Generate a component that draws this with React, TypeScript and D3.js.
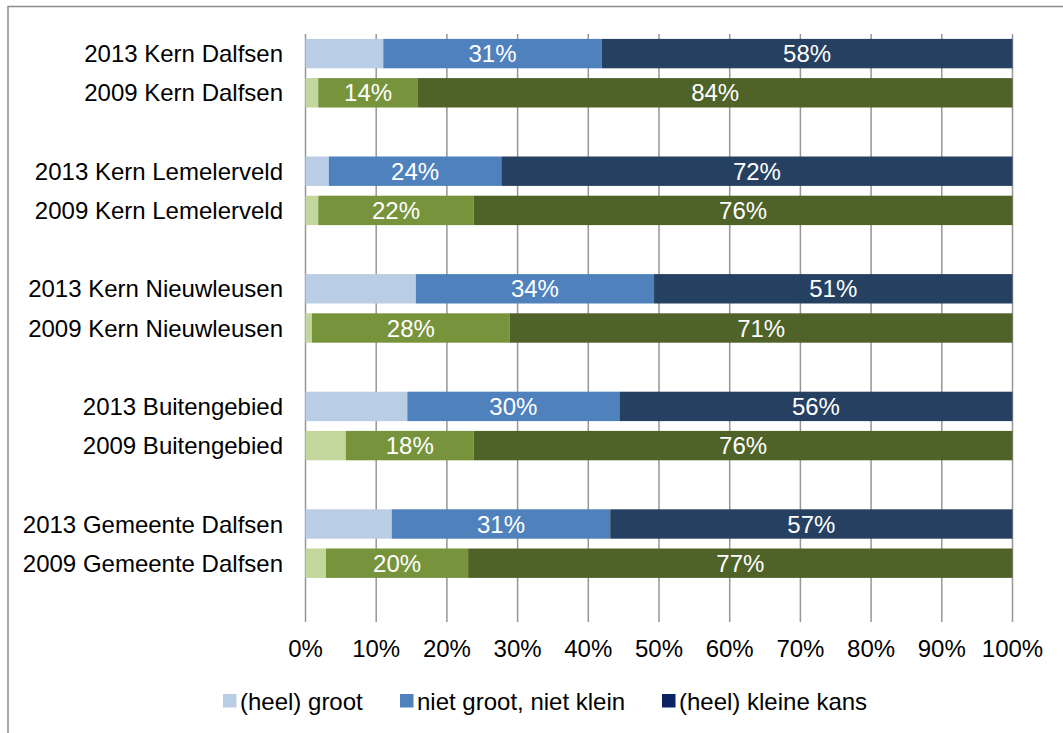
import React, { useEffect, useRef } from 'react';
import * as d3 from 'd3';

// categorieen van boven naar beneden ('' = lege tussenruimte)
const categories = [
  '2013 Kern Dalfsen', '2009 Kern Dalfsen', '',
  '2013 Kern Lemelerveld', '2009 Kern Lemelerveld', '',
  '2013 Kern Nieuwleusen', '2009 Kern Nieuwleusen', '',
  '2013 Buitengebied', '2009 Buitengebied', '',
  '2013 Gemeente Dalfsen', '2009 Gemeente Dalfsen', '',
];

const rows = categories.filter(c => c !== '');

const groot = [11.0, 1.8, 3.3, 1.8, 15.6, 0.9, 14.4, 5.7, 12.2, 2.9];
const nietGrootNietKlein = [30.9, 14.1, 24.4, 22.0, 33.7, 28.0, 30.0, 18.1, 30.9, 20.1];
const kleineKans = [58.1, 84.1, 72.3, 76.2, 50.7, 71.1, 55.6, 76.2, 56.9, 77.0];

const seriesNames = ['(heel) groot', 'niet groot, niet klein', '(heel) kleine kans'];
const colors2013 = ['#b9cde5', '#4f81bd', '#254061'];
const colors2009 = ['#c3d69b', '#77933c', '#4f6228'];
const legendColors = ['#b9cde5', '#4f81bd', '#0b2363'];
const xTicks = [0, 10, 20, 30, 40, 50, 60, 70, 80, 90, 100];

const App = () => {
  const svgRef = useRef<SVGSVGElement>(null);

  useEffect(() => {
    if (!svgRef.current) return;
    const svg = d3.select(svgRef.current);
    svg.selectAll('*').remove();

    const width = 1063;
    const height = 733;
    const font = '"Liberation Sans", Arial, sans-serif';

    svg.attr('width', width).attr('height', height);

    // kader
    svg.append('path')
      .attr('d', `M8,${height} L8,6.5 L${width},6.5`)
      .attr('fill', 'none')
      .attr('stroke', '#8c8c8c')
      .attr('stroke-width', 1.5);

    const x = d3.scaleLinear().domain([0, 100]).range([305.5, 1012.5]);
    const y = d3.scaleBand<number>()
      .domain(d3.range(categories.length))
      .range([34, 622])
      .paddingInner(0.25)
      .paddingOuter(0.125);

    // rasterlijnen
    svg.append('g')
      .selectAll('line')
      .data(xTicks)
      .enter().append('line')
      .attr('x1', d => x(d))
      .attr('x2', d => x(d))
      .attr('y1', 34)
      .attr('y2', 622)
      .attr('stroke', '#969696')
      .attr('stroke-width', 1.5);

    // tick labels
    svg.append('g')
      .selectAll('text')
      .data(xTicks)
      .enter().append('text')
      .attr('x', d => x(d))
      .attr('y', 657)
      .attr('text-anchor', 'middle')
      .attr('font-family', font)
      .attr('font-size', 24)
      .attr('fill', '#000')
      .text(d => `${d}%`);

    // balken
    rows.forEach((name, i) => {
      const idx = categories.indexOf(name);
      const vals = [groot[i], nietGrootNietKlein[i], kleineKans[i]];
      const cols = name.startsWith('2013') ? colors2013 : colors2009;
      const by = y(idx)!;
      const bh = y.bandwidth();
      let acc = 0;
      vals.forEach((v, s) => {
        const x0 = x(acc);
        const x1 = x(acc + v);
        svg.append('rect')
          .attr('x', x0)
          .attr('y', by)
          .attr('width', x1 - x0)
          .attr('height', bh)
          .attr('fill', cols[s]);
        if (s > 0) {
          svg.append('text')
            .attr('x', (x0 + x1) / 2)
            .attr('y', by + bh / 2 + 8.5)
            .attr('text-anchor', 'middle')
            .attr('font-family', font)
            .attr('font-size', 24)
            .attr('fill', '#fff')
            .text(`${Math.round(v)}%`);
        }
        acc += v;
      });

      svg.append('text')
        .attr('x', 283)
        .attr('y', by + bh / 2 + 8.5)
        .attr('text-anchor', 'end')
        .attr('font-family', font)
        .attr('font-size', 24)
        .attr('fill', '#000')
        .text(name);
    });

    // legenda
    const legendX = [223, 400, 662];
    seriesNames.forEach((n, i) => {
      svg.append('rect')
        .attr('x', legendX[i])
        .attr('y', 694)
        .attr('width', 13.5)
        .attr('height', 13.5)
        .attr('fill', legendColors[i]);
      svg.append('text')
        .attr('x', legendX[i] + 17)
        .attr('y', 710)
        .attr('font-family', font)
        .attr('font-size', 24)
        .attr('fill', '#000')
        .text(n);
    });
  }, []);

  return (
    <div style={{ position: 'absolute', left: 0, top: 0 }}>
      <svg ref={svgRef} style={{ display: 'block' }}></svg>
    </div>
  );
};

export default App;
